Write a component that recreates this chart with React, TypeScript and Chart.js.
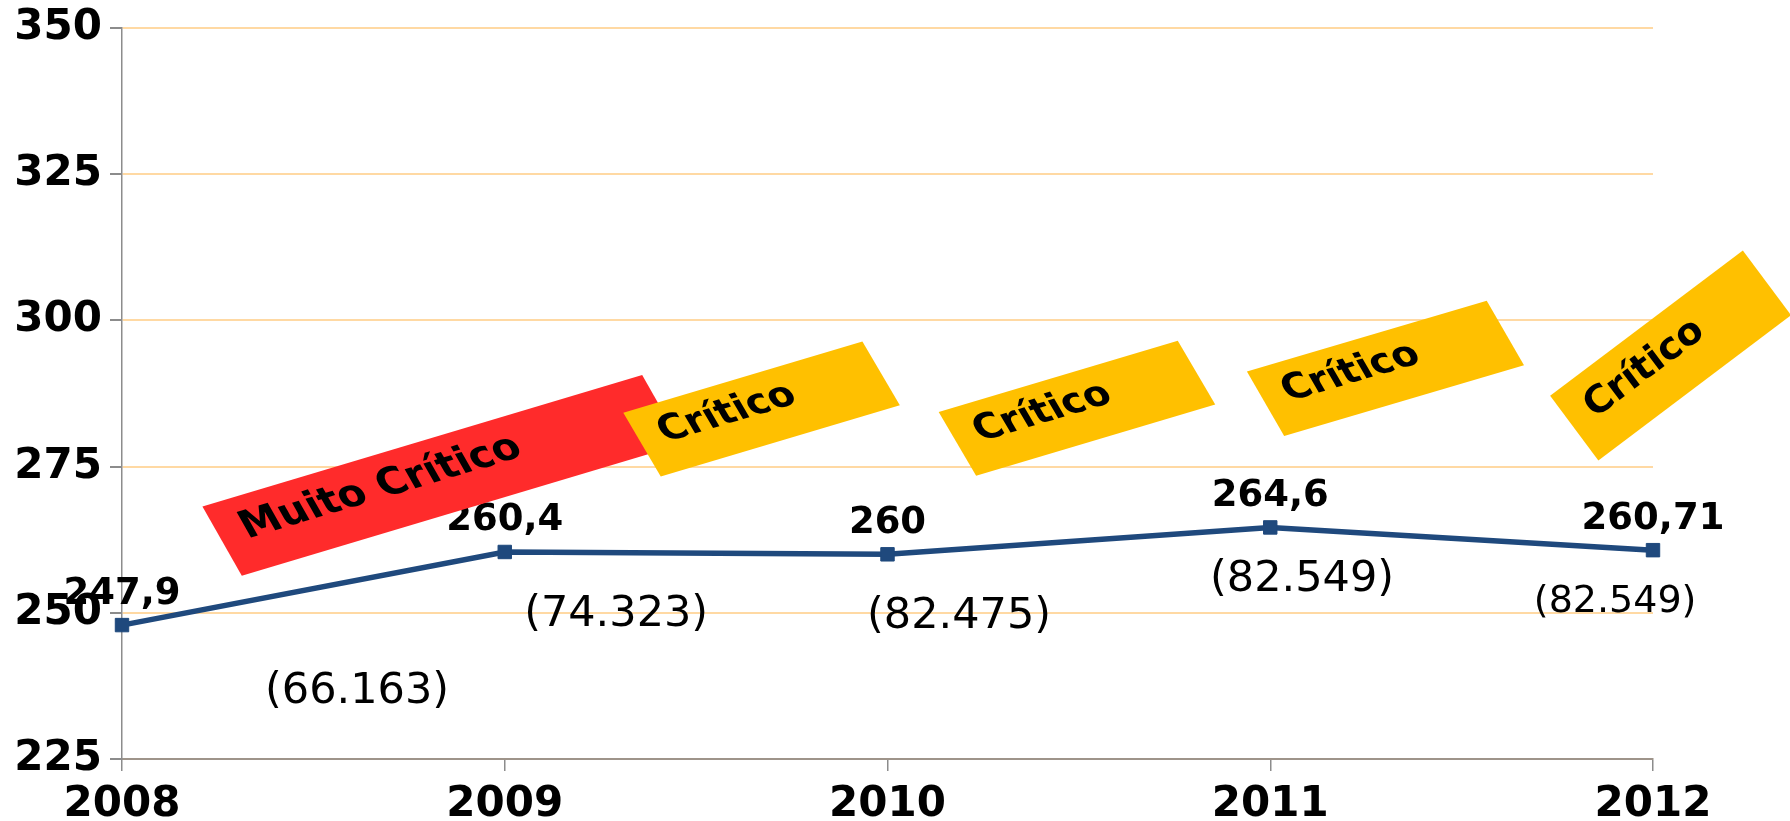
import React, { useEffect, useRef } from 'react';
import { Chart, registerables } from 'chart.js';

Chart.register(...registerables);

// ---- data ----
const categories = ['2008', '2009', '2010', '2011', '2012'];
const values = [247.9, 260.4, 260, 264.6, 260.71];
const valueLabels = ['247,9', '260,4', '260', '264,6', '260,71'];
const notes = ['(66.163)', '(74.323)', '(82.475)', '(82.549)', '(82.549)'];
const statusLabels = ['Muito Crítico', 'Crítico', 'Crítico', 'Crítico', 'Crítico'];
const yMin = 225;
const yMax = 350;
const yStep = 25;

// ---- annotation placement (data space anchors + pixel shapes) ----
const notePlacement = [
  { x: 0.614, y: 236.46, size: 43 },
  { x: 1.291, y: 249.63, size: 43 },
  { x: 2.187, y: 249.38, size: 43 },
  { x: 3.083, y: 255.71, size: 43 },
  { x: 3.901, y: 251.86, size: 38 },
];

const boxPlacement = [
  { x: 0.836, y: 273.5, angle: -16.66, len: 459, side: 60.4, depth: 79.7, color: '#FF2B2B', font: 40, pad: 24 },
  { x: 1.671, y: 284.84, angle: -16.6, len: 249.5, side: 59.6, depth: 74, color: '#FFC000', font: 38, pad: 22 },
  { x: 2.495, y: 284.98, angle: -16.6, len: 249.5, side: 59.6, depth: 74, color: '#FFC000', font: 38, pad: 22 },
  { x: 3.301, y: 291.8, angle: -16.4, len: 250, side: 60.0, depth: 74.5, color: '#FFC000', font: 38, pad: 22 },
  { x: 4.046, y: 293.99, angle: -37.0, len: 241.3, side: 53.3, depth: 80.7, color: '#FFC000', font: 38, pad: 22 },
];

const FONT = '"DejaVu Sans", sans-serif';
const LINE_COLOR = '#1F497D';
const GRID_COLOR = '#FFD9A3';

const annotationPlugin = {
  id: 'annotations',
  afterDatasetsDraw(chart: any) {
    const ctx: CanvasRenderingContext2D = chart.ctx;
    const xs = chart.scales.x;
    const ys = chart.scales.y;
    ctx.save();
    // value labels above points
    ctx.fillStyle = '#000';
    ctx.font = `bold 37px ${FONT}`;
    ctx.textAlign = 'center';
    ctx.textBaseline = 'alphabetic';
    values.forEach((v, i) => {
      const px = xs.getPixelForValue(i);
      const py = ys.getPixelForValue(v);
      ctx.fillText(valueLabels[i], px, py - 21.5);
    });
    // notes
    ctx.textBaseline = 'middle';
    notes.forEach((n, i) => {
      const p = notePlacement[i];
      ctx.font = `${p.size}px ${FONT}`;
      ctx.fillText(n, xs.getPixelForValue(p.x), ys.getPixelForValue(p.y));
    });
    // status boxes
    statusLabels.forEach((label, i) => {
      const b = boxPlacement[i];
      const cx = xs.getPixelForValue(b.x);
      const cy = ys.getPixelForValue(b.y);
      const a = (b.angle * Math.PI) / 180;
      const s = (b.side * Math.PI) / 180;
      const ux = Math.cos(a), uy = Math.sin(a);
      const vx = Math.cos(s), vy = Math.sin(s);
      const tlx = cx - (ux * b.len) / 2 - (vx * b.depth) / 2;
      const tly = cy - (uy * b.len) / 2 - (vy * b.depth) / 2;
      ctx.save();
      ctx.translate(tlx, tly);
      ctx.transform(ux, uy, vx, vy, 0, 0);
      ctx.fillStyle = b.color;
      ctx.fillRect(0, 0, b.len, b.depth);
      ctx.fillStyle = '#000';
      ctx.font = `bold ${b.font}px ${FONT}`;
      ctx.textAlign = 'left';
      ctx.textBaseline = 'alphabetic';
      ctx.fillText(label, b.pad, b.depth * 0.56);
      ctx.restore();
    });
    ctx.restore();
  },
};

export default function App() {
  const canvasRef = useRef<HTMLCanvasElement | null>(null);

  useEffect(() => {
    const canvas = canvasRef.current;
    if (!canvas) return;
    const chart = new Chart(canvas, {
      type: 'line',
      data: {
        labels: categories,
        datasets: [
          {
            data: values,
            borderColor: LINE_COLOR,
            backgroundColor: LINE_COLOR,
            borderWidth: 5.5,
            pointStyle: 'rect',
            pointRadius: 9.5,
            pointBorderWidth: 1,
            pointBackgroundColor: LINE_COLOR,
            pointBorderColor: LINE_COLOR,
            tension: 0,
            fill: false,
          },
        ],
      },
      options: {
        responsive: false,
        animation: false,
        devicePixelRatio: 1,
        layout: { padding: { top: 28, right: 137, left: 0, bottom: 0 } },
        plugins: {
          legend: { display: false },
          tooltip: { enabled: false },
          title: { display: false },
        },
        scales: {
          x: {
            type: 'category',
            offset: false,
            grid: {
              drawOnChartArea: false,
              drawTicks: true,
              tickLength: 12,
              tickColor: '#8C8C8C',
              lineWidth: 1.5,
            },
            border: { display: true, color: '#9E948A', width: 2 },
            ticks: {
              color: '#000',
              font: { family: FONT, size: 42, weight: 'bold' },
              padding: 9,
              maxRotation: 0,
              autoSkip: false,
            },
            afterFit: (scale: any) => {
              scale.height = 62;
              scale.paddingLeft = 0;
              scale.paddingRight = 0;
            },
          },
          y: {
            min: yMin,
            max: yMax,
            grid: {
              color: (c: any) => (c.tick && c.tick.value === yMin ? 'rgba(0,0,0,0)' : GRID_COLOR),
              lineWidth: 2,
              tickLength: 12,
              tickColor: '#8C8C8C',
            },
            border: { display: true, color: '#8C8C8C', width: 1.5 },
            ticks: {
              stepSize: yStep,
              color: '#000',
              font: { family: FONT, size: 42, weight: 'bold' },
              padding: 8,
            },
            afterFit: (scale: any) => {
              scale.width = 122;
              scale.paddingTop = 0;
              scale.paddingBottom = 0;
            },
          },
        },
      },
      plugins: [annotationPlugin],
    });
    return () => chart.destroy();
  }, []);

  return (
    <div style={{ position: 'absolute', left: 0, top: 0, width: 1790, height: 821, background: '#fff' }}>
      <canvas ref={canvasRef} width={1790} height={821} style={{ display: 'block' }} />
    </div>
  );
}
